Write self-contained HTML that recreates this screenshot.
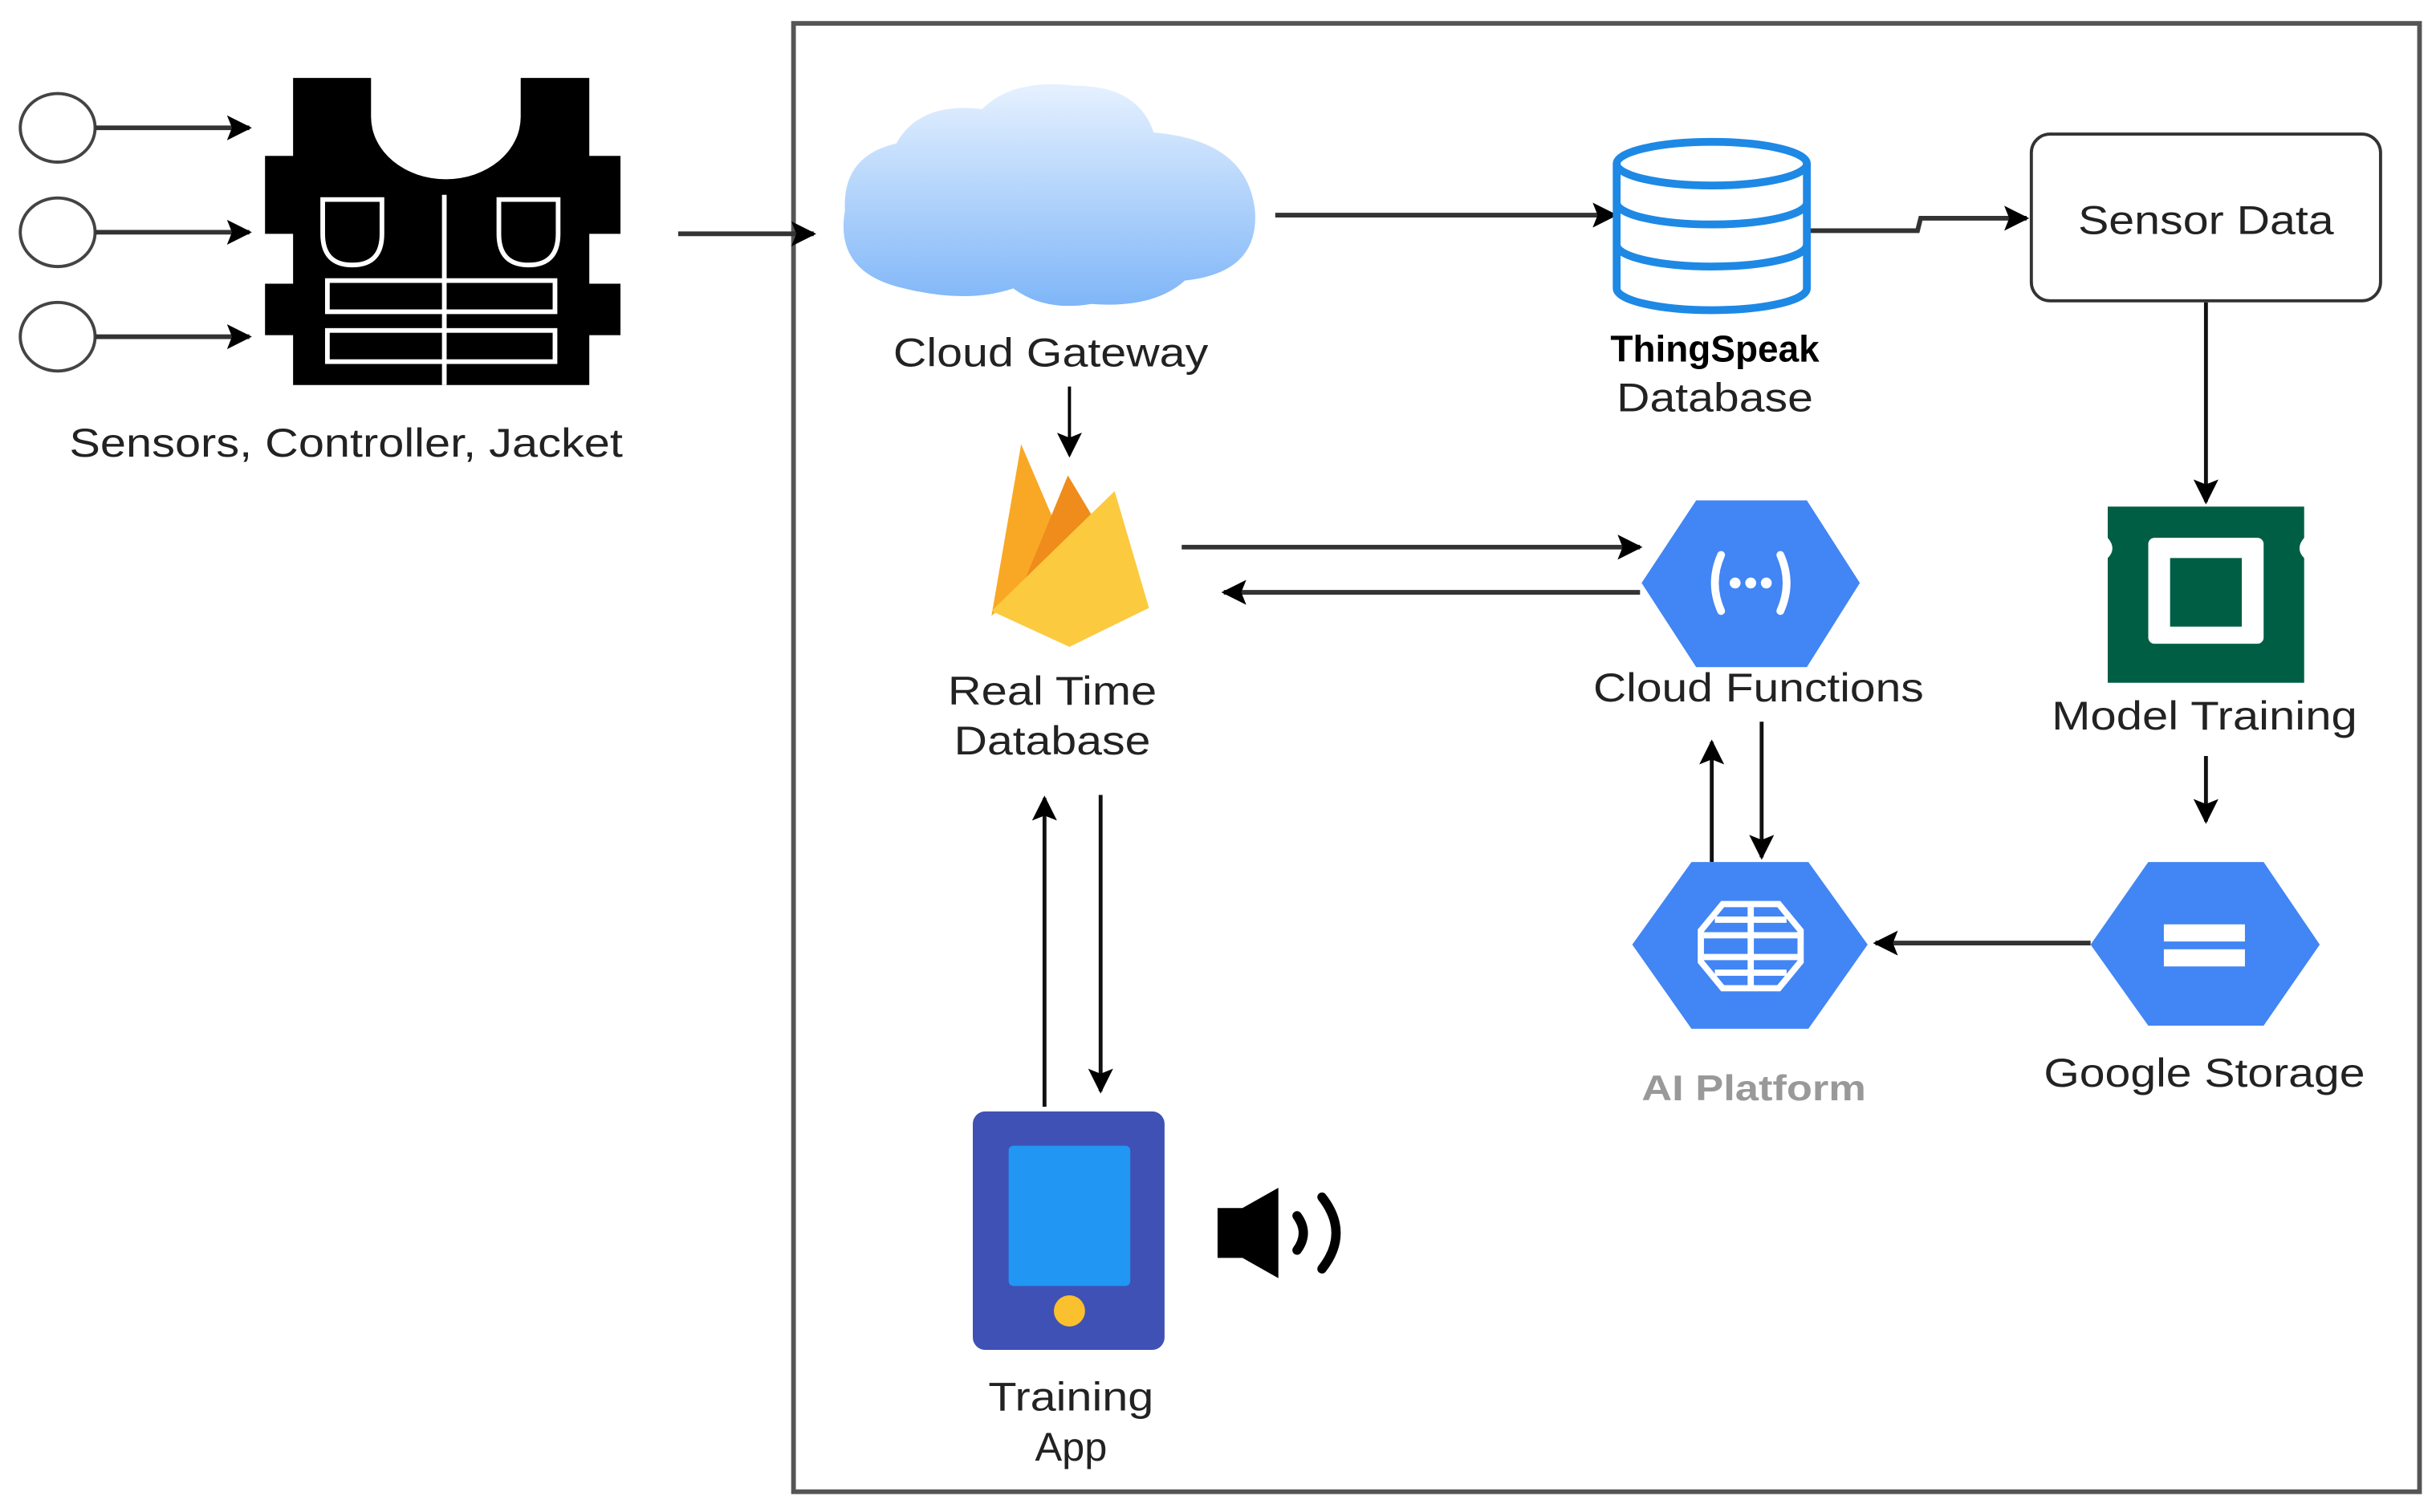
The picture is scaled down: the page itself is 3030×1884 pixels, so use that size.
<!DOCTYPE html>
<html><head><meta charset="utf-8"><style>html,body{margin:0;padding:0;background:#fff}svg{display:block}</style></head>
<body>
<svg width="3030" height="1884" viewBox="0 0 1560 970" preserveAspectRatio="none" xmlns="http://www.w3.org/2000/svg" font-family="Liberation Sans, sans-serif">
<defs>
<marker id="b" viewBox="0 0 10 10" refX="9" refY="5" markerWidth="16" markerHeight="16" orient="auto" markerUnits="userSpaceOnUse"><path d="M0,0 L10,5 L0,10 L2,5 z" fill="#000"/></marker>
<linearGradient id="cg" x1="0" y1="0" x2="0" y2="1"><stop offset="0" stop-color="#e6f1ff"/><stop offset="1" stop-color="#7fb6f8"/></linearGradient>
</defs>
<rect x="509" y="15" width="1043" height="942" fill="none" stroke="#555" stroke-width="3"/>
<g fill="none" stroke="#444" stroke-width="2">
<ellipse cx="37" cy="82" rx="24" ry="22"/><ellipse cx="37" cy="149" rx="24" ry="22"/><ellipse cx="37" cy="216" rx="24" ry="22"/>
</g>
<g stroke="#333" stroke-width="3" marker-end="url(#b)">
<line x1="61" y1="82" x2="160" y2="82"/><line x1="61" y1="149" x2="160" y2="149"/><line x1="61" y1="216" x2="160" y2="216"/>
<line x1="435" y1="150" x2="522" y2="150"/>
</g>
<path d="M188,50 H238 V75 A48,40 0 0 0 334,75 V50 H378 V100 H398 V150 H378 V182 H398 V215 H378 V247 H188 V215 H170 V182 H188 V150 H170 V100 H188 Z" fill="#000"/>
<g fill="none" stroke="#fff" stroke-width="3">
<line x1="285" y1="125" x2="285" y2="247"/>
<path d="M207,128 H245 V150 Q245,170 226,170 Q207,170 207,150 Z"/>
<path d="M320,128 H358 V150 Q358,170 339,170 Q320,170 320,150 Z"/>
<rect x="210" y="180" width="146" height="20"/>
<rect x="210" y="212" width="146" height="20"/>
</g>
<text x="222" y="293" font-size="26" text-anchor="middle" fill="#222" textLength="355" lengthAdjust="spacingAndGlyphs">Sensors, Controller, Jacket</text>
<path d="M580,185 Q535,175 542,135 Q540,100 575,92 Q590,65 630,70 Q650,50 690,55 Q730,55 740,85 Q800,90 805,135 Q808,175 760,180 Q740,198 700,195 Q670,200 650,185 Q620,195 580,185 Z" fill="url(#cg)"/>
<text x="674" y="235" font-size="26" text-anchor="middle" fill="#222" textLength="202" lengthAdjust="spacingAndGlyphs">Cloud Gateway</text>
<line x1="686" y1="248" x2="686" y2="292" stroke="#000" stroke-width="2" marker-end="url(#b)"/>
<path d="M655,285 L685,355 L636,395 Z" fill="#f9a825"/>
<path d="M685,305 L700,330 L690,360 L650,390 Z" fill="#ef8c1c"/>
<path d="M715,315 L737,390 L686,415 L636,392 Z" fill="#fcca3f"/>
<text x="675" y="452" font-size="26" text-anchor="middle" fill="#222" textLength="134" lengthAdjust="spacingAndGlyphs">Real Time</text>
<text x="675" y="484" font-size="26" text-anchor="middle" fill="#222" textLength="126" lengthAdjust="spacingAndGlyphs">Database</text>
<g stroke="#333" stroke-width="3">
<line x1="758" y1="351" x2="1052" y2="351" marker-end="url(#b)"/>
<line x1="1052" y1="380" x2="785" y2="380" marker-end="url(#b)"/>
<line x1="818" y1="138" x2="1036" y2="138" marker-end="url(#b)"/>
<polyline points="1160,148 1230,148 1232,140 1300,140" fill="none" marker-end="url(#b)"/>
<line x1="1341" y1="605" x2="1203" y2="605" marker-end="url(#b)"/>
</g>
<g stroke="#111" stroke-width="2.5">
<line x1="1415" y1="194" x2="1415" y2="322" marker-end="url(#b)"/>
<line x1="1415" y1="485" x2="1415" y2="527" marker-end="url(#b)"/>
<line x1="1098" y1="553" x2="1098" y2="476" marker-end="url(#b)"/>
<line x1="1130" y1="463" x2="1130" y2="550" marker-end="url(#b)"/>
<line x1="670" y1="710" x2="670" y2="512" marker-end="url(#b)"/>
<line x1="706" y1="510" x2="706" y2="700" marker-end="url(#b)"/>
</g>
<g fill="#fff" stroke="#1e88e5" stroke-width="5">
<path d="M1037,105 V185 A61,14 0 0 0 1159,185 V105"/>
<ellipse cx="1098" cy="105" rx="61" ry="14"/>
<path d="M1037,130 A61,14 0 0 0 1159,130 M1037,157 A61,14 0 0 0 1159,157" fill="none"/>
</g>
<text x="1100" y="232" font-size="24" font-weight="bold" text-anchor="middle" fill="#000" textLength="134" lengthAdjust="spacingAndGlyphs">ThingSpeak</text>
<text x="1100" y="264" font-size="26" text-anchor="middle" fill="#222" textLength="126" lengthAdjust="spacingAndGlyphs">Database</text>
<rect x="1303" y="86" width="224" height="107" rx="12" fill="#fff" stroke="#333" stroke-width="2"/>
<text x="1415" y="150" font-size="26" text-anchor="middle" fill="#222" textLength="164" lengthAdjust="spacingAndGlyphs">Sensor Data</text>
<path d="M1352,325 H1478 V345 Q1472,352 1478,358 V438 H1352 V358 Q1358,352 1352,345 Z" fill="#005e45"/>
<rect x="1378" y="345" width="74" height="68" rx="4" fill="#fff"/>
<rect x="1392" y="358" width="46" height="44" fill="#005e45"/>
<text x="1414" y="468" font-size="26" text-anchor="middle" fill="#222" textLength="196" lengthAdjust="spacingAndGlyphs">Model Training</text>
<g fill="#4285f4">
<path d="M1088,321 H1159 L1193,374 L1159,428 H1088 L1053,374 Z"/>
<path d="M1085,553 H1160 L1198,606 L1160,660 H1085 L1047,606 Z"/>
<path d="M1378,553 H1452 L1488,606 L1452,658 H1378 L1341,606 Z"/>
</g>
<g fill="none" stroke="#fff" stroke-width="5" stroke-linecap="round">
<path d="M1104,356 Q1096,374 1104,392 M1142,356 Q1150,374 1142,392"/>
</g>
<g fill="#fff"><circle cx="1113" cy="374" r="3.5"/><circle cx="1123" cy="374" r="3.5"/><circle cx="1133" cy="374" r="3.5"/>
<rect x="1388" y="593" width="52" height="11"/><rect x="1388" y="609" width="52" height="11"/></g>
<g fill="none" stroke="#fff" stroke-width="4">
<path d="M1105,580 H1141 L1155,597 V617 L1141,634 H1105 L1091,617 V597 Z"/>
<line x1="1123" y1="582" x2="1123" y2="632"/><path d="M1093,600 H1153 M1093,614 H1153 M1100,590 H1146 M1100,624 H1146"/>
</g>
<text x="1128" y="450" font-size="26" text-anchor="middle" fill="#222" textLength="212" lengthAdjust="spacingAndGlyphs">Cloud Functions</text>
<text x="1125" y="706" font-size="23" font-weight="bold" text-anchor="middle" fill="#999" textLength="144" lengthAdjust="spacingAndGlyphs">AI Platform</text>
<text x="1414" y="697" font-size="26" text-anchor="middle" fill="#222" textLength="206" lengthAdjust="spacingAndGlyphs">Google Storage</text>
<rect x="624" y="713" width="123" height="153" rx="8" fill="#3f51b5"/>
<rect x="647" y="735" width="78" height="90" rx="3" fill="#2196f3"/>
<circle cx="686" cy="841" r="10" fill="#fbc02d"/>
<text x="687" y="905" font-size="26" text-anchor="middle" fill="#222" textLength="106" lengthAdjust="spacingAndGlyphs">Training</text>
<text x="687" y="937" font-size="26" text-anchor="middle" fill="#222">App</text>
<path d="M781,775 H797 L820,762 V820 L797,807 H781 Z" fill="#000"/>
<g fill="none" stroke="#000" stroke-width="6" stroke-linecap="round"><path d="M832,780 Q840,791 832,802"/><path d="M848,768 Q866,791 848,814"/></g>
</svg>
</body></html>
